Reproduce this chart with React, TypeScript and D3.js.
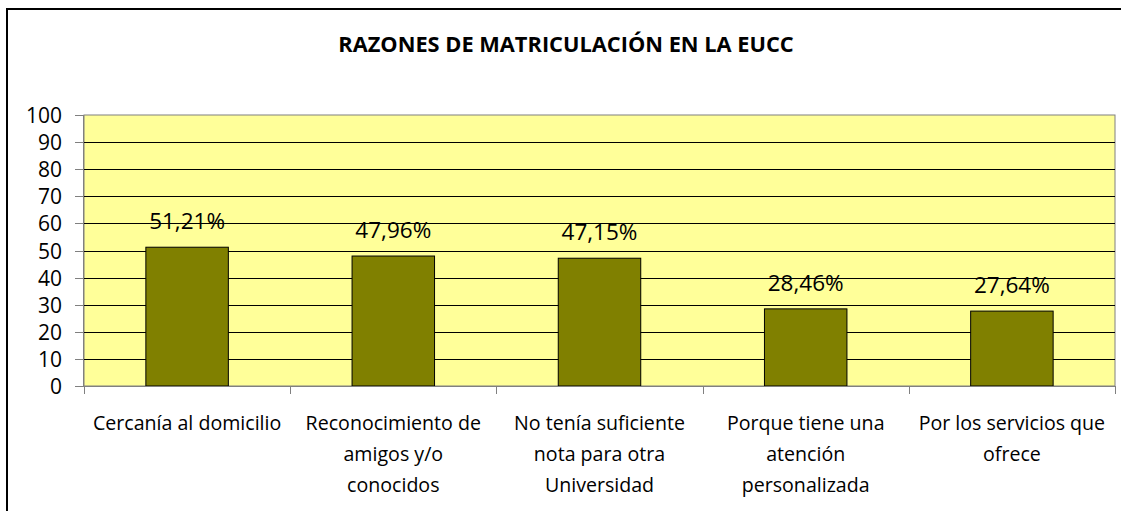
import React from "react";
import * as d3 from "d3";

const categories: string[][] = [
  ["Cercanía al domicilio"],
  ["Reconocimiento de", "amigos y/o", "conocidos"],
  ["No tenía suficiente", "nota para otra", "Universidad"],
  ["Porque tiene una", "atención", "personalizada"],
  ["Por los servicios que", "ofrece"],
];
const values: number[] = [51.21, 47.96, 47.15, 28.46, 27.64];
const valueLabels: string[] = ["51,21%", "47,96%", "47,15%", "28,46%", "27,64%"];
const yTicks: number[] = [0, 10, 20, 30, 40, 50, 60, 70, 80, 90, 100];
const title = "RAZONES DE MATRICULACIÓN EN LA EUCC";

const W = 1121;
const H = 511;
const plot = { left: 84, right: 1115, top: 115, bottom: 386 };
const FONT = "'Open Sans', 'Noto Sans', sans-serif";

export default function App() {
  const ids = categories.map((_, i) => String(i));
  const x = d3.scaleBand<string>().domain(ids).range([plot.left, plot.right]).paddingInner(0).paddingOuter(0);
  const y = d3.scaleLinear().domain([0, 100]).range([plot.bottom, plot.top]);
  const bw = x.bandwidth() / 2.5;

  return (
    <svg width={W} height={H} style={{ position: "absolute", left: 0, top: 0 }} fontFamily={FONT}>
      <rect x={0} y={0} width={W} height={H} fill="#fff" />
      <rect x={7} y={9} width={1140} height={540} fill="#fff" stroke="#000" strokeWidth={2} />
      <text x={566} y={52} textAnchor="middle" fontWeight="bold" fontSize={21.8} fill="#000">
        {title}
      </text>
      <rect
        x={plot.left}
        y={plot.top}
        width={plot.right - plot.left}
        height={plot.bottom - plot.top}
        fill="#FFFF99"
        stroke="#808080"
        strokeWidth={1}
      />
      {yTicks.filter((t) => t > 0 && t < 100).map((t) => (
        <line key={"g" + t} x1={plot.left} x2={plot.right} y1={Math.round(y(t)) + 0.5} y2={Math.round(y(t)) + 0.5} stroke="#000" strokeWidth={1} />
      ))}
      {yTicks.map((t) => (
        <g key={"t" + t}>
          <line x1={75} x2={plot.left} y1={Math.round(y(t)) + 0.5} y2={Math.round(y(t)) + 0.5} stroke="#808080" />
          <text x={62} y={y(t) + 8} textAnchor="end" fontSize={21} fill="#000">
            {t}
          </text>
        </g>
      ))}
      {values.map((v, i) => {
        const cx = (x(ids[i]) as number) + x.bandwidth() / 2;
        return (
          <g key={"b" + i}>
            <rect x={cx - bw / 2} y={y(v)} width={bw} height={plot.bottom - y(v)} fill="#808000" stroke="#000" strokeWidth={1} />
            <text x={cx} y={y(v) - 18} textAnchor="middle" fontSize={22.5} fill="#000">
              {valueLabels[i]}
            </text>
          </g>
        );
      })}
      <line x1={plot.left - 0.5} x2={plot.left - 0.5} y1={plot.top} y2={plot.bottom} stroke="#808080" />
      <line x1={plot.left} x2={plot.right} y1={plot.bottom + 0.5} y2={plot.bottom + 0.5} stroke="#808080" />
      {ids.concat(["end"]).map((id, i) => {
        const xx = i < ids.length ? (x(id) as number) : plot.right;
        return <line key={"xt" + i} x1={Math.round(xx) + 0.5} x2={Math.round(xx) + 0.5} y1={plot.bottom} y2={plot.bottom + 8} stroke="#808080" />;
      })}
      {categories.map((lines, i) => {
        const cx = (x(ids[i]) as number) + x.bandwidth() / 2;
        return (
          <text key={"c" + i} textAnchor="middle" fontSize={19.6} fill="#000">
            {lines.map((l, j) => (
              <tspan key={j} x={cx} y={430 + j * 30.8}>
                {l}
              </tspan>
            ))}
          </text>
        );
      })}
    </svg>
  );
}
